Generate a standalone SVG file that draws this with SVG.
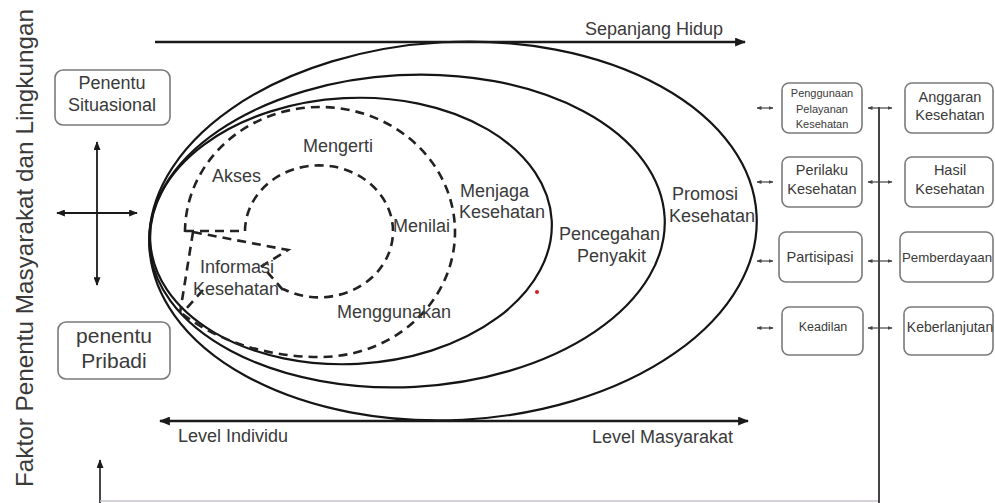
<svg xmlns="http://www.w3.org/2000/svg" width="995" height="503" viewBox="0 0 995 503">
<defs>
<style>
.t{font-family:"Liberation Sans",Arial,sans-serif;fill:#3a3a3a}
.box{fill:#fff;stroke:#7a7a7a;stroke-width:1.6}
.ell{fill:none;stroke:#151515;stroke-width:2.2}
.dash{fill:none;stroke:#222;stroke-width:2.6;stroke-dasharray:9 6}
.ln{stroke:#1a1a1a;fill:none}
</style>
<marker id="ah" viewBox="0 0 10 8" refX="9" refY="4" markerWidth="11" markerHeight="9" markerUnits="userSpaceOnUse" orient="auto-start-reverse"><path d="M0,0 L10,4 L0,8 z" fill="#1a1a1a"/></marker>
<marker id="ahm" viewBox="0 0 10 8" refX="9" refY="4" markerWidth="9" markerHeight="7" markerUnits="userSpaceOnUse" orient="auto-start-reverse"><path d="M0,0 L10,4 L0,8 z" fill="#1a1a1a"/></marker>
<marker id="ahs" viewBox="0 0 10 8" refX="9" refY="4" markerWidth="5" markerHeight="4" markerUnits="userSpaceOnUse" orient="auto-start-reverse"><path d="M0,0 L10,4 L0,8 z" fill="#444"/></marker>
</defs>
<rect width="995" height="503" fill="#fff"/>

<g id="axis-label">
<text class="t" transform="translate(33,248) rotate(-90)" text-anchor="middle" font-size="24" textLength="478" lengthAdjust="spacingAndGlyphs">Faktor Penentu Masyarakat dan Lingkungan</text>
</g>

<g id="ellipses">
<ellipse id="promosi" class="ell" cx="453" cy="231" rx="304" ry="189" stroke-width="3" transform="rotate(-3 453 231)"/>
<ellipse id="pencegahan" class="ell" cx="407" cy="231" rx="258" ry="156" transform="rotate(-3 407 231)"/>
<ellipse id="menjaga" class="ell" cx="351" cy="231" rx="201" ry="133" transform="rotate(-3 351 231)"/>
</g>

<g id="literacy-dashes">
<path class="dash" d="M185,232 A135,125 0 1 1 320,357 C265,357 215,340 180,312"/>
<path class="dash" d="M193,232 L180,313"/>
<path class="dash" d="M185,231 L245,231"/>
<path class="dash" d="M245,231 A74,66 0 1 1 283,289"/>
<path class="dash" d="M193,232 L288,250 L262,266 L283,290"/>
<path class="dash" d="M203,290 L186,309"/>
</g>

<g id="inner-labels" font-size="18">
<text class="t" x="212" y="182">Akses</text>
<text class="t" x="303" y="152">Mengerti</text>
<text class="t" x="393" y="232">Menilai</text>
<text class="t" x="200" y="273">Informasi</text>
<text class="t" x="193" y="295">Kesehatan</text>
<text class="t" x="337" y="318">Menggunakan</text>
<text class="t" x="460" y="197">Menjaga</text>
<text class="t" x="459" y="218">Kesehatan</text>
<text class="t" x="559" y="240">Pencegahan</text>
<text class="t" x="577" y="262">Penyakit</text>
<text class="t" x="672" y="200">Promosi</text>
<text class="t" x="669" y="222">Kesehatan</text>
</g>
<circle cx="537" cy="292" r="2" fill="#d62020"/>

<g id="connectors">
<line class="ln" x1="155" y1="42" x2="745" y2="42" stroke-width="2.5" marker-end="url(#ah)"/>
<line class="ln" x1="160" y1="421" x2="748" y2="421" stroke-width="2.5" marker-start="url(#ah)" marker-end="url(#ah)"/>
<line class="ln" x1="97" y1="142" x2="97" y2="285" stroke-width="1.8" marker-start="url(#ahm)" marker-end="url(#ahm)"/>
<line class="ln" x1="57" y1="213" x2="137" y2="213" stroke-width="1.8" marker-start="url(#ahm)" marker-end="url(#ahm)"/>
<line class="ln" x1="100" y1="503" x2="100" y2="460" stroke-width="1.6" marker-end="url(#ahm)"/>
<line x1="100" y1="501" x2="879" y2="501" stroke="#c8c0cc" stroke-width="1.5"/>
<line x1="879" y1="107" x2="879" y2="503" stroke="#444" stroke-width="2"/>
<g stroke="#444" stroke-width="1.2" marker-start="url(#ahs)" marker-end="url(#ahs)">
<line x1="757" y1="108" x2="773" y2="108"/>
<line x1="757" y1="182" x2="773" y2="182"/>
<line x1="757" y1="261" x2="773" y2="261"/>
<line x1="757" y1="328" x2="773" y2="328"/>
<line x1="868" y1="108" x2="892" y2="108"/>
<line x1="868" y1="182" x2="892" y2="182"/>
<line x1="868" y1="261" x2="892" y2="261"/>
<line x1="868" y1="328" x2="892" y2="328"/>
</g>
</g>

<g id="axis-labels" font-size="18">
<text class="t" x="585" y="35">Sepanjang Hidup</text>
<text class="t" x="178" y="442">Level Individu</text>
<text class="t" x="592" y="443">Level Masyarakat</text>
</g>

<g id="penentu-situasional">
<rect class="box" x="55" y="70" width="115" height="55" rx="8"/>
<text class="t" x="112" y="89" font-size="18" text-anchor="middle">Penentu</text>
<text class="t" x="112" y="111" font-size="18" text-anchor="middle">Situasional</text>
</g>
<g id="penentu-pribadi">
<rect class="box" x="58" y="322" width="112" height="57" rx="8"/>
<text class="t" x="114" y="343" font-size="21" text-anchor="middle">penentu</text>
<text class="t" x="114" y="368" font-size="21" text-anchor="middle">Pribadi</text>
</g>

<g id="penggunaan">
<rect class="box" x="782" y="83" width="80" height="50" rx="7"/>
<g font-size="11" text-anchor="middle"><text class="t" x="822" y="97">Penggunaan</text><text class="t" x="822" y="113">Pelayanan</text><text class="t" x="822" y="128">Kesehatan</text></g>
</g>
<g id="perilaku">
<rect class="box" x="782" y="157" width="80" height="50" rx="7"/>
<g font-size="14.5" text-anchor="middle"><text class="t" x="822" y="175">Perilaku</text><text class="t" x="822" y="194">Kesehatan</text></g>
</g>
<g id="partisipasi">
<rect class="box" x="779" y="232" width="83" height="50" rx="7"/>
<text class="t" x="820" y="262" font-size="14.5" text-anchor="middle">Partisipasi</text>
</g>
<g id="keadilan">
<rect class="box" x="782" y="307" width="81" height="48" rx="7"/>
<text class="t" x="823" y="331" font-size="12.5" text-anchor="middle">Keadilan</text>
</g>
<g id="anggaran">
<rect class="box" x="905" y="83" width="88" height="50" rx="7"/>
<g font-size="14.5" text-anchor="middle"><text class="t" x="950" y="102">Anggaran</text><text class="t" x="950" y="120">Kesehatan</text></g>
</g>
<g id="hasil">
<rect class="box" x="905" y="157" width="88" height="50" rx="7"/>
<g font-size="14.5" text-anchor="middle"><text class="t" x="950" y="175">Hasil</text><text class="t" x="950" y="194">Kesehatan</text></g>
</g>
<g id="pemberdayaan">
<rect class="box" x="900" y="232" width="93" height="50" rx="7"/>
<text class="t" x="947" y="262" font-size="13.3" text-anchor="middle">Pemberdayaan</text>
</g>
<g id="keberlanjutan">
<rect class="box" x="904" y="307" width="89" height="48" rx="7"/>
<text class="t" x="950" y="332" font-size="14" text-anchor="middle">Keberlanjutan</text>
</g>
</svg>
